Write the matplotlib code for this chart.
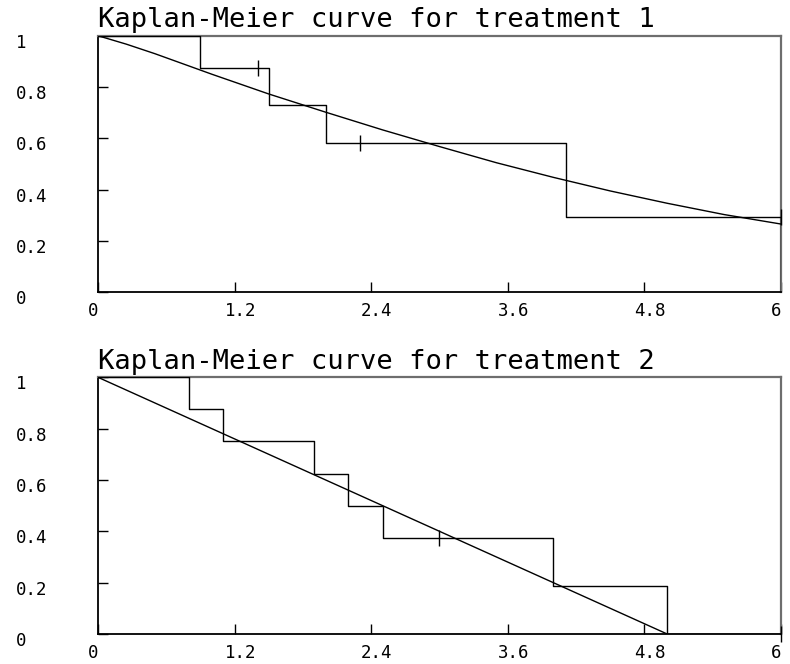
import matplotlib
matplotlib.use('Agg')
import matplotlib.pyplot as plt
from matplotlib.transforms import ScaledTranslation

# treatment 1: Kaplan-Meier steps (event times, survival after each drop)
km1_time = [0.0, 0.90, 1.50, 2.00, 4.11, 6.00]
km1_surv = [1.0, 0.875, 0.729, 0.583, 0.292, 0.0]
cens1_time = [1.41, 2.30, 6.00]
cens1_surv = [0.875, 0.583, 0.292]
fit1_time = [0.0, 0.25, 0.5, 0.75, 1.0, 1.5, 2.0, 2.5, 3.0, 3.5, 4.0, 4.5, 5.0, 5.5, 6.0]
fit1_surv = [1.0, 0.967, 0.93, 0.89, 0.85, 0.773, 0.702, 0.633, 0.568, 0.505,
             0.448, 0.395, 0.347, 0.303, 0.266]

# treatment 2
km2_time = [0.0, 0.80, 1.10, 1.90, 2.20, 2.50, 4.00, 5.00, 6.00]
km2_surv = [1.0, 0.875, 0.75, 0.625, 0.50, 0.375, 0.1875, 0.0, 0.0]
cens2_time = [3.00, 6.00]
cens2_surv = [0.375, 0.0]
fit2_time = [0.0, 1.0, 2.0, 3.0, 4.0, 4.5, 5.0]
fit2_surv = [1.0, 0.80, 0.60, 0.40, 0.20, 0.10, 0.0]

x_ticks = [0, 1.2, 2.4, 3.6, 4.8, 6]
x_labels = ['0', '1.2', '2.4', '3.6', '4.8', '6']
y_ticks = [0, 0.2, 0.4, 0.6, 0.8, 1]
y_labels = ['0', '0.2', '0.4', '0.6', '0.8', '1']

FONT = 'DejaVu Sans Mono'

fig = plt.figure(figsize=(7.9, 6.64), dpi=100)


def km_panel(rect, t, s, ct, cs, ft, fs, title):
    ax = fig.add_axes(rect)
    ax.step(t, s, where='post', color='black', lw=1.0, zorder=3)
    ax.plot(ft, fs, color='black', lw=1.0, zorder=3)
    # censoring marks
    ax.plot(ct, cs, linestyle='none', marker='|', markersize=11,
            markeredgewidth=1.0, color='black', zorder=4, clip_on=False)
    ax.set_xlim(0, 6)
    ax.set_ylim(0, 1)
    ax.set_xticks(x_ticks)
    ax.set_xticklabels(x_labels, fontsize=12.5, family=FONT, ha='left')
    ax.set_yticks(y_ticks)
    ax.set_yticklabels(y_labels, fontsize=12.5, family=FONT, ha='left')
    ax.tick_params(axis='x', direction='in', length=7, width=1, pad=7,
                   top=False)
    ax.tick_params(axis='y', direction='in', length=7, width=1, pad=59,
                   right=False)
    dx = ScaledTranslation(-10 / 100, 0, fig.dpi_scale_trans)
    for lab in ax.get_xticklabels():
        lab.set_transform(lab.get_transform() + dx)
    dy = ScaledTranslation(0, -5 / 100, fig.dpi_scale_trans)
    for lab in ax.get_yticklabels():
        lab.set_transform(lab.get_transform() + dy)
    for side in ['left', 'bottom']:
        ax.spines[side].set_color('black')
        ax.spines[side].set_linewidth(1.3)
    for side in ['top', 'right']:
        ax.spines[side].set_color('#6e6e6e')
        ax.spines[side].set_linewidth(1.6)
    ax.set_title(title, loc='left', fontsize=19.5, family=FONT, pad=6)
    return ax


km_panel([0.124, 0.5598, 0.8646, 0.3864], km1_time, km1_surv,
         cens1_time, cens1_surv, fit1_time, fit1_surv,
         'Kaplan-Meier curve for treatment 1')
km_panel([0.124, 0.0452, 0.8646, 0.3866], km2_time, km2_surv,
         cens2_time, cens2_surv, fit2_time, fit2_surv,
         'Kaplan-Meier curve for treatment 2')

fig.savefig('out.png', dpi=100, facecolor='white')
